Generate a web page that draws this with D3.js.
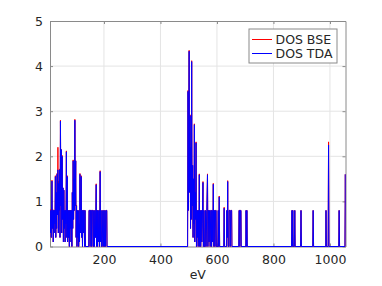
<!DOCTYPE html>
<html>
<head>
<meta charset="utf-8">
<script src="https://cdn.jsdelivr.net/npm/d3@7"></script>
<style>
  body { margin: 0; background: #fff; }
  text { font-family: "DejaVu Sans", sans-serif; fill: #262626; }
</style>
</head>
<body>
<div class="graph"></div>
<script>
'use strict'

// energies (eV) shared by both curves
const energy = [
  9, 10, 12, 13.5, 16, 17.5, 19, 20.5, 22, 23.5,
  25, 26.5, 28, 29.5, 31, 32.5, 34, 35.5, 37, 38.5,
  40, 41.5, 43, 44.5, 46, 47.5, 49, 50.5, 52, 53.5,
  55, 56.5, 58, 59.5, 61, 62.5, 64, 65.5, 67, 68.5,
  70, 71.5, 73, 74.5, 76, 77.5, 79, 80.5, 82, 83.5,
  85, 86.5, 88, 89.5, 91, 92.5, 94, 95.5, 97, 98.5,
  100, 101.5, 103, 104.5, 106, 107.5, 109, 110.5, 112, 113.5,
  115, 116.5, 118, 119.5, 121, 122.5, 124, 125.5, 127, 128.5,
  130, 131.5, 133, 134.5, 146, 147, 150, 151, 152, 155,
  156, 157, 160, 161, 163, 164, 166, 168, 170, 172.5,
  174, 176, 177.5, 179, 181, 183, 184.5, 186.5, 188, 190,
  191.5, 194, 196, 198, 200, 202, 204, 206, 208, 210,
  211, 496,
  497.5, 499, 501.5, 503, 505, 506.5, 508, 509, 510.5, 512,
  514, 515.5, 517, 518.5, 520, 521.5, 523, 524.5, 526, 527.5,
  529, 530.5, 532, 533.5, 535, 536, 537.5, 539, 541, 542.5,
  545, 546.5, 548, 550.5, 552, 554, 555.5, 558, 560, 561.5,
  564, 566.5, 568, 570, 572, 574, 576, 578, 580, 581,
  583, 585, 587, 589, 591, 593, 595, 597, 598, 603,
  604.5, 606, 608, 609.5, 624, 625.5, 627, 634, 635, 636.5,
  638, 639.5, 642, 643, 646, 647, 649, 652, 653, 677,
  678, 680, 681, 683, 685, 686, 702, 703, 704.5, 706,
  707.5, 864, 865.5, 867, 868.5, 870, 874, 875.5, 877, 896,
  897.5, 899, 939, 940.5, 942, 985, 986, 987.5, 993.5, 995,
  996.5, 1031, 1032.5, 1034, 1053, 1054.5, 1056
]

const dosTDA = [
  0.8, 0.3, 0.8, 0.2, 1.45, 0.4, 0.8, 0.1, 0.8, 0.3,
  0.8, 0.5, 1.55, 0.2, 1.2, 0.4, 1.6, 0.7, 1.7, 0.3,
  1.4, 0.8, 1.7, 0.2, 2.78, 0.9, 2.15, 0.3, 2.0, 0.6,
  1.3, 0.1, 1.25, 0.4, 0.8, 0.1, 0.8, 0.5, 2.1, 0.2,
  1.55, 0.1, 0.8, 0.2, 0.8, 0, 0.8, 0.4, 0.8, 0.1,
  0.8, 0, 1.2, 0.4, 1.9, 0.6, 1.5, 0.8, 2.8, 0.9,
  1.9, 0.2, 0.9, 0, 0.8, 0.2, 0.8, 0, 0.5, 0.1,
  1.6, 0.3, 1.0, 1.55, 0.2, 0.8, 0, 0.8, 0.3, 0.8,
  0.8, 0, 0.8, 0, 0, 0.8, 0.8, 0, 0.8, 0.8,
  0, 0.8, 0.8, 0, 0, 0.8, 0, 0.8, 0.2, 1.37,
  0, 0.8, 0, 0.8, 0.1, 0.8, 0, 1.66, 0.1, 0.8,
  0, 0, 0.8, 0, 0.8, 0, 0.8, 0, 0.8, 0.8,
  0, 0,
  3.44, 0.8, 4.33, 1.2, 2.9, 0.4, 2.2, 0.6, 4.1, 0.9,
  1.8, 0.2, 1.5, 0.5, 2.7, 0.1, 1.2, 0.6, 2.3, 0,
  0.8, 0.2, 0.8, 0, 0.8, 0.1, 1.59, 0, 0.8, 0,
  0.8, 0.1, 0.5, 1.42, 0, 0.8, 0, 0, 0.8, 0,
  0.8, 1.59, 0, 0.8, 0.1, 0.8, 0, 0.8, 0.8, 0,
  0.8, 0.1, 1.38, 0, 0.8, 0, 0.8, 0.8, 0, 0,
  0.8, 0, 1.1, 0, 0, 0.85, 0, 0, 0.8, 0.2,
  1.44, 0, 0, 0.8, 0.8, 0, 0.8, 0.8, 0, 0,
  0.8, 0.8, 0, 0.8, 0.8, 0, 0, 0.8, 0, 0.8,
  0, 0, 0.8, 0, 0.8, 0, 0, 0.8, 0, 0,
  0.8, 0, 0, 0.8, 0, 0, 0.8, 0, 0, 2.25,
  0, 0, 0.8, 0, 0, 1.6, 0
]

const dosBSE = [
  0.8, 0.3, 0.82, 0.2, 1.47, 0.4, 0.82, 0.1, 0.8, 0.3,
  0.8, 0.5, 1.57, 0.2, 1.2, 0.4, 1.62, 0.7, 2.2, 0.3,
  1.45, 0.8, 1.72, 0.2, 2.8, 0.9, 2.15, 0.3, 2.02, 0.6,
  1.3, 0.1, 1.25, 0.4, 0.8, 0.1, 0.8, 0.5, 2.12, 0.2,
  1.57, 0.1, 0.8, 0.2, 0.8, 0, 0.8, 0.4, 0.8, 0.1,
  0.8, 0, 1.2, 0.4, 1.92, 0.6, 1.5, 0.8, 2.82, 0.9,
  1.9, 0.2, 0.92, 0, 0.8, 0.2, 0.8, 0, 0.5, 0.1,
  1.62, 0.3, 1.0, 1.57, 0.2, 0.8, 0, 0.8, 0.3, 0.8,
  0.8, 0, 0.8, 0, 0, 0.8, 0.8, 0, 0.8, 0.8,
  0, 0.8, 0.8, 0, 0, 0.8, 0, 0.8, 0.2, 1.39,
  0, 0.8, 0, 0.8, 0.1, 0.8, 0, 1.68, 0.1, 0.8,
  0, 0, 0.8, 0, 0.8, 0, 0.8, 0, 0.8, 0.8,
  0, 0,
  3.46, 0.8, 4.35, 1.2, 2.92, 0.4, 2.2, 0.6, 4.12, 0.9,
  1.8, 0.2, 1.5, 0.5, 2.72, 0.1, 1.2, 0.6, 2.32, 0,
  0.8, 0.2, 0.8, 0, 0.8, 0.1, 1.61, 0, 0.8, 0,
  0.8, 0.1, 0.5, 1.44, 0, 0.8, 0, 0, 0.8, 0,
  0.8, 1.61, 0, 0.8, 0.1, 0.8, 0, 0.8, 0.8, 0,
  0.8, 0.1, 1.4, 0, 0.8, 0, 0.8, 0.8, 0, 0,
  0.8, 0, 1.12, 0, 0, 0.87, 0, 0, 0.8, 0.2,
  1.46, 0, 0, 0.8, 0.8, 0, 0.8, 0.8, 0, 0,
  0.8, 0.8, 0, 0.8, 0.8, 0, 0, 0.8, 0, 0.8,
  0, 0, 0.8, 0, 0.8, 0, 0, 0.8, 0, 0,
  0.8, 0, 0, 0.8, 0, 0, 0.8, 0, 0, 2.32,
  0, 0, 0.8, 0, 0, 1.6, 0
]

const xTicks = [200, 400, 600, 800, 1000]
const yTicks = [0, 1, 2, 3, 4, 5]
const seriesNames = ['DOS BSE', 'DOS TDA']
const seriesColors = ['#ff0000', '#0000ff']

const margin = { top: 21, left: 50 },
  width = 295.5,
  height = 225.5

const svg = d3.select('.graph').append('svg')
  .attr('width', 382)
  .attr('height', 286)

const g = svg.append('g')
  .attr('transform', `translate(${margin.left},${margin.top})`)

const xScale = d3.scaleLinear().domain([9, 1055]).range([0, width])
const yScale = d3.scaleLinear().domain([0, 5]).range([height, 0])

// grid
g.append('g').selectAll('line')
  .data(xTicks)
  .join('line')
  .attr('x1', d => xScale(d)).attr('x2', d => xScale(d))
  .attr('y1', 0).attr('y2', height)
  .attr('stroke', '#e4e4e4')
g.append('g').selectAll('line')
  .data(yTicks.slice(1, -1))
  .join('line')
  .attr('x1', 0).attr('x2', width)
  .attr('y1', d => yScale(d)).attr('y2', d => yScale(d))
  .attr('stroke', '#e4e4e4')

// axes, ticks inward like matlab
const tickLen = 3
const fmt = d3.format('d')
const axisBottom = g.append('g')
  .attr('transform', `translate(0,${height})`)
  .call(d3.axisBottom(xScale).tickValues(xTicks).tickFormat(fmt).tickSize(-tickLen).tickPadding(9).tickSizeOuter(0))
const axisTop = g.append('g')
  .call(d3.axisTop(xScale).tickValues(xTicks).tickSize(-tickLen).tickFormat('').tickSizeOuter(0))
const axisLeft = g.append('g')
  .call(d3.axisLeft(yScale).tickValues(yTicks).tickFormat(fmt).tickSize(-tickLen).tickPadding(7).tickSizeOuter(0))
const axisRight = g.append('g')
  .attr('transform', `translate(${width},0)`)
  .call(d3.axisRight(yScale).tickValues(yTicks).tickSize(-tickLen).tickFormat('').tickSizeOuter(0))

;[axisBottom, axisTop, axisLeft, axisRight].forEach(a => {
  a.select('.domain').attr('stroke', '#8a8a8a')
  a.selectAll('.tick line').attr('stroke', '#8a8a8a')
  a.selectAll('text')
    .style('font-size', '12.5px')
    .style('font-family', '"DejaVu Sans", sans-serif')
    .attr('fill', '#262626')
})

// x title
g.append('text')
  .attr('x', width / 2)
  .attr('y', height + 32)
  .attr('text-anchor', 'middle')
  .style('font-size', '12.5px')
  .text('eV')

// data
g.append('clipPath').attr('id', 'clip')
  .append('rect').attr('width', width).attr('height', height + 1)

const line = d3.line()
  .x(d => xScale(d[0]))
  .y(d => yScale(d[1]))

const series = [dosBSE, dosTDA]
series.forEach((vals, i) => {
  g.append('path')
    .datum(energy.map((e, k) => [e, vals[k]]))
    .attr('clip-path', 'url(#clip)')
    .attr('fill', 'none')
    .attr('stroke', seriesColors[i])
    .attr('stroke-width', 1)
    .attr('d', line)
})

// legend
const lg = svg.append('g').attr('transform', 'translate(249,29)')
lg.append('rect')
  .attr('width', 88).attr('height', 34)
  .attr('fill', '#fff')
  .attr('stroke', '#8a8a8a')
seriesNames.forEach((name, i) => {
  const y = 10.5 + i * 14
  lg.append('line')
    .attr('x1', 3).attr('x2', 23)
    .attr('y1', y).attr('y2', y)
    .attr('stroke', seriesColors[i])
  lg.append('text')
    .attr('x', 26.5).attr('y', y)
    .attr('dy', '0.36em')
    .style('font-size', '12.5px')
    .text(name)
})
</script>
</body>
</html>
